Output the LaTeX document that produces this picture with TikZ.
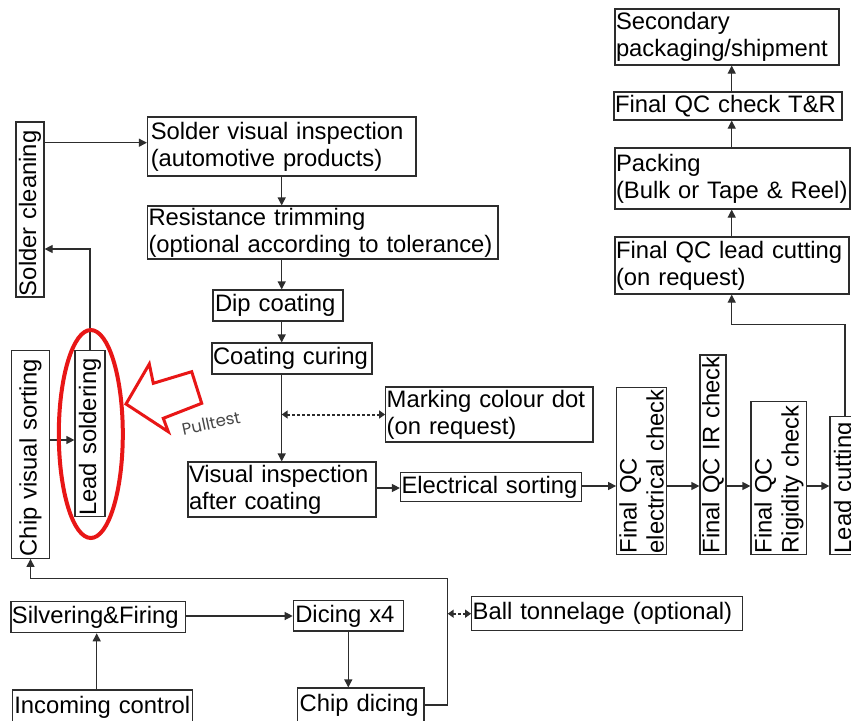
\documentclass[tikz,border=0pt]{standalone}
\usepackage{fontspec}
\setmainfont{Liberation Sans}
\newfontfamily\pullfont{Poppins}
\usetikzlibrary{arrows.meta}
\newcommand\mainsz{\fontsize{23.8}{27}\selectfont}
\definecolor{lnc}{RGB}{45,45,45}
\definecolor{hred}{RGB}{232,22,22}
\begin{document}
\begin{tikzpicture}[x=1pt,y=-1pt,
  box/.style={draw=lnc, line width=1.2pt, inner xsep=1pt, inner ysep=0pt, align=left, font=\mainsz, text=black},
  vbox/.style={box, rotate=90},
  arr/.style={draw=lnc, line width=1.2pt, -{Triangle[length=8pt,width=8pt]}},
  darr/.style={draw=lnc, line width=2pt, dash pattern=on 2.5pt off 2.5pt, {Triangle[length=6pt,width=8pt]}-{Triangle[length=6pt,width=8pt]}}]
\useasboundingbox[fill=white] (0,0) rectangle (851,720);

% top-right column
\node[box, text width=222pt, minimum height=56pt] (sec) at (727,37) {Secondary\\packaging/shipment};
\node[box, text width=226pt, minimum height=28pt] (tr) at (728,106) {Final QC check T\&R};
\node[box, text width=233pt, minimum height=61pt] (pack) at (732.5,178.5) {Packing\\(Bulk or Tape \& Reel)};
\node[box, text width=232pt, minimum height=57pt] (qclc) at (732,265.5) {Final QC lead cutting\\(on request)};

% middle column
\node[box, text width=262pt, inner xsep=3.25pt, minimum height=59pt] (svi) at (281.75,146.5) {Solder visual inspection\\(automotive products)};
\node[box, text width=348.5pt, minimum height=53pt] (rt) at (322.75,232.5) {Resistance trimming\\(optional according to tolerance)};
\node[box, text width=126pt, inner xsep=2pt, minimum height=31pt] (dip) at (278,305.5) {Dip coating};
\node[box, text width=158pt, minimum height=31pt] (cure) at (292,358.5) {Coating curing};
\node[box, text width=205.3pt, minimum height=55pt] (mark) at (489.35,414.5) {Marking colour dot\\(on request)};
\node[box, text width=186pt, minimum height=55pt] (vis) at (282,489.5) {Visual inspection\\after coating};
\node[box, text width=179.2pt, minimum height=29pt] (es) at (491.1,487.2) {Electrical sorting};

% bottom row
\node[box, text width=172.7pt, minimum height=31pt] (sil) at (98.35,617.2) {Silvering\&Firing};
\node[box, text width=106pt, inner xsep=2pt, minimum height=30.3pt] (dice) at (348.3,615.85) {Dicing x4};
\node[box, text width=122.3pt, inner xsep=2pt, minimum height=34pt] (chip) at (360.85,705) {Chip dicing};
\node[box, text width=176.4pt, inner xsep=2pt, minimum height=34pt] (inc) at (102.5,707) {Incoming control};
\node[box, text width=269pt, minimum height=34pt] (ball) at (607.2,613.7) {Ball tonnelage (optional)};

% vertical boxes
\node[vbox, text width=173pt, minimum height=28pt] (sc) at (30,209.5) {Solder cleaning};
\node[vbox, text width=203.6pt, inner xsep=2pt, minimum height=37.6pt] (cvs) at (30.5,454.5) {Chip visual sorting};
\node[vbox, text width=164pt, minimum height=30pt] (ls) at (90,433.7) {Lead soldering};
\node[vbox, text width=164.6pt, minimum height=50pt] (qce) at (641.7,471) {Final QC\\electrical check};
\node[vbox, text width=197.3pt, minimum height=26pt] (qcir) at (713,454.65) {Final QC IR check};
\node[vbox, text width=150.6pt, minimum height=55.7pt] (qcr) at (778.85,478) {Final QC\\Rigidity check};
\node[vbox, text width=135.6pt, minimum height=30pt] (lc) at (845,485.5) {Lead cutting};

% helper coordinates
\coordinate (colx) at (281.7,0);
\coordinate (colr) at (731.7,0);
\coordinate (rowq) at (0,486);
\coordinate (r440) at (0,440);
\coordinate (r249) at (0,249);
\coordinate (turn) at (731.7,324.3);
\coordinate (loopx) at (447.7,578.3);
\coordinate (c97) at (96.7,0);

% connectors
\draw[arr] (sc.south |- 0,142.7) -- (svi.west |- 0,142.7);
\draw[arr] (colx |- svi.south) -- (colx |- rt.north);
\draw[arr] (colx |- rt.south) -- (colx |- dip.north);
\draw[arr] (colx |- dip.south) -- (colx |- cure.north);
\draw[arr] (colx |- cure.south) -- (colx |- vis.north);
\draw[darr] (colx |- mark.west) -- (mark.west);
\draw[arr] (vis.east |- 0,488) -- (es.west |- 0,488);
\draw[arr] (es.east |- rowq) -- (qce.north |- rowq);
\draw[arr] (qce.south |- rowq) -- (qcir.north |- rowq);
\draw[arr] (qcir.south |- rowq) -- (qcr.north |- rowq);
\draw[arr] (qcr.south |- rowq) -- (lc.north |- rowq);
\draw[arr] (lc.east) |- (turn) -- (colr |- qclc.south);
\draw[arr] (colr |- qclc.north) -- (colr |- pack.south);
\draw[arr] (colr |- pack.north) -- (colr |- tr.south);
\draw[arr] (colr |- tr.north) -- (colr |- sec.south);
\draw[arr] (cvs.south |- r440) -- (ls.north |- r440);
\draw[arr] (ls.east) |- (sc.south |- r249);
\draw[arr] (chip.east) -| (loopx) -| (cvs.west);
\draw[darr] (loopx |- ball.west) -- (ball.west);
\draw[arr] (sil.east |- 0,616) -- (dice.west |- 0,616);
\draw[arr] (dice.south) -- (dice.south |- chip.north);
\draw[arr] (c97 |- inc.north) -- (c97 |- sil.south);

% red highlight
\draw[hred, line width=4pt] (90.8,434) ellipse [x radius=32, y radius=104];
\draw[hred, line width=3pt, fill=white, line join=miter]
  (126,404) -- (149.3,364) -- (153.3,383.3) -- (191.7,371.7) -- (201.7,403.3)
  -- (163.3,418.3) -- (168.3,431.7) -- cycle;
\node[font=\pullfont\fontsize{16.5}{19}\selectfont, text=black!72, rotate=12, inner sep=0pt] (pull) at (211,423) {Pulltest};
\end{tikzpicture}
\end{document}
